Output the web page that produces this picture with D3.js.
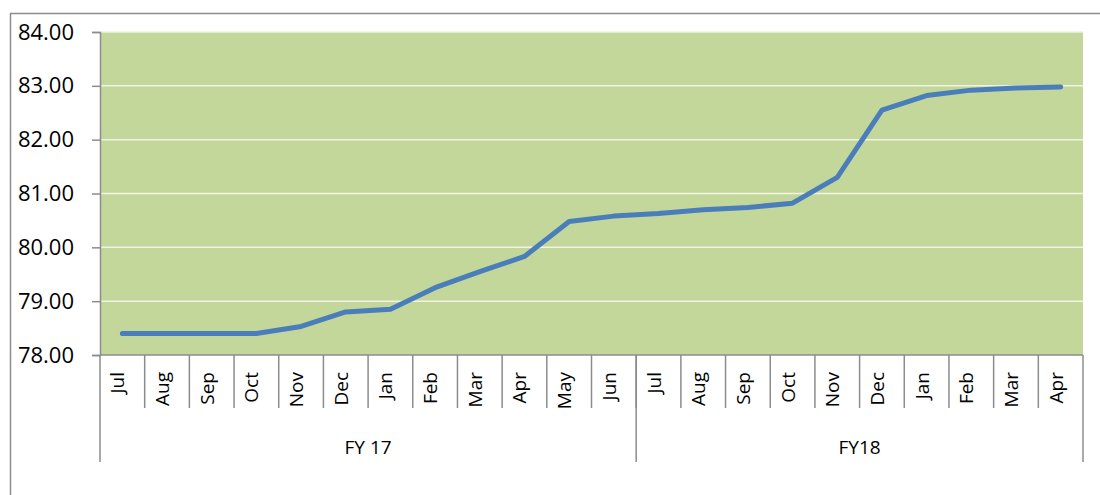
<!DOCTYPE html>
<html>
<head>
<meta charset="utf-8">
<script src="https://cdn.jsdelivr.net/npm/d3@7"></script>
<style>
  body { margin: 0; background: #fff; }
  svg { display: block; font-family: "Open Sans", "Noto Sans", sans-serif; }
</style>
</head>
<body>
<svg id="chart" width="1100" height="495"></svg>
<script>
const months = ["Jul", "Aug", "Sep", "Oct", "Nov", "Dec", "Jan", "Feb", "Mar", "Apr", "May", "Jun",
                "Jul", "Aug", "Sep", "Oct", "Nov", "Dec", "Jan", "Feb", "Mar", "Apr"];
const values = [78.40, 78.40, 78.40, 78.40, 78.53, 78.80, 78.85, 79.25, 79.55, 79.83, 80.48, 80.58,
                80.63, 80.70, 80.74, 80.82, 81.30, 82.55, 82.82, 82.92, 82.96, 82.98];
const groups = [{ name: "FY 17", count: 12 }, { name: "FY18", count: 10 }];
const yTicks = [78, 79, 80, 81, 82, 83, 84];

const svg = d3.select("#chart");
const margin = { left: 100, right: 17, top: 32, bottom: 140 };
const width = 1100 - margin.left - margin.right,
  height = 495 - margin.top - margin.bottom;

// outer chart border
svg.append("path")
  .attr("d", "M10.5,495 V13.5 H1100")
  .attr("fill", "none").attr("stroke", "#8c8c8c").attr("stroke-width", 1.5);

const g = svg.append("g").attr("transform", `translate(${margin.left},${margin.top})`);

const idx = months.map((d, i) => i);
const x = d3.scaleBand().domain(idx).range([0, width]);
const y = d3.scaleLinear().domain([78, 84]).range([height, 0]);

g.append("rect").attr("width", width).attr("height", height).attr("fill", "#c4d79b");

// gridlines
g.selectAll(".grid").data(yTicks.slice(1)).enter().append("line")
  .attr("x1", 0).attr("x2", width)
  .attr("y1", d => y(d)).attr("y2", d => y(d))
  .attr("stroke", "#eef3e2").attr("stroke-width", 1.5);

// y axis
const yAxis = g.append("g").call(
  d3.axisLeft(y).tickValues(yTicks).tickSize(8).tickPadding(18).tickFormat(d3.format(".2f"))
);
yAxis.select(".domain").attr("stroke", "#8c8c8c").attr("stroke-width", 1.5);
yAxis.selectAll(".tick line").attr("stroke", "#8c8c8c").attr("stroke-width", 1.5);
yAxis.selectAll(".tick text").attr("font-size", 22).attr("fill", "#000").attr("font-family", "Open Sans");

// category axis
const cat = g.append("g").attr("transform", `translate(0,${height})`);
cat.append("line").attr("x1", 0).attr("x2", width).attr("stroke", "#8c8c8c").attr("stroke-width", 1.5);
cat.selectAll(".sep").data(idx.slice(1)).enter().append("line")
  .attr("x1", d => x(d)).attr("x2", d => x(d))
  .attr("y1", 0).attr("y2", 53)
  .attr("stroke", "#8c8c8c").attr("stroke-width", 1.5);
cat.selectAll(".mlabel").data(idx).enter().append("text")
  .attr("transform", d => `translate(${x(d) + x.bandwidth() / 2 + 2},17) rotate(-90)`)
  .attr("text-anchor", "end")
  .attr("font-size", 19)
  .text(d => months[d]);

// group separators and labels
let start = 0;
const bounds = [0];
groups.forEach(gr => { start += gr.count; bounds.push(start); });
cat.selectAll(".gsep").data(bounds).enter().append("line")
  .attr("x1", d => d < months.length ? x(d) : width)
  .attr("x2", d => d < months.length ? x(d) : width)
  .attr("y1", 0).attr("y2", 107)
  .attr("stroke", "#8c8c8c").attr("stroke-width", 1.5);
cat.selectAll(".glabel").data(groups).enter().append("text")
  .attr("x", (d, i) => {
    const a = x(bounds[i]);
    const b = bounds[i + 1] < months.length ? x(bounds[i + 1]) : width;
    return (a + b) / 2;
  })
  .attr("y", 99)
  .attr("text-anchor", "middle")
  .attr("font-size", 19)
  .text(d => d.name);

// line
const line = d3.line()
  .x((d, i) => x(i) + x.bandwidth() / 2)
  .y(d => y(d));
g.append("path")
  .datum(values)
  .attr("d", line)
  .attr("fill", "none")
  .attr("stroke", "#4a7ebb")
  .attr("stroke-width", 5)
  .attr("stroke-linecap", "round")
  .attr("stroke-linejoin", "round");
</script>
</body>
</html>
